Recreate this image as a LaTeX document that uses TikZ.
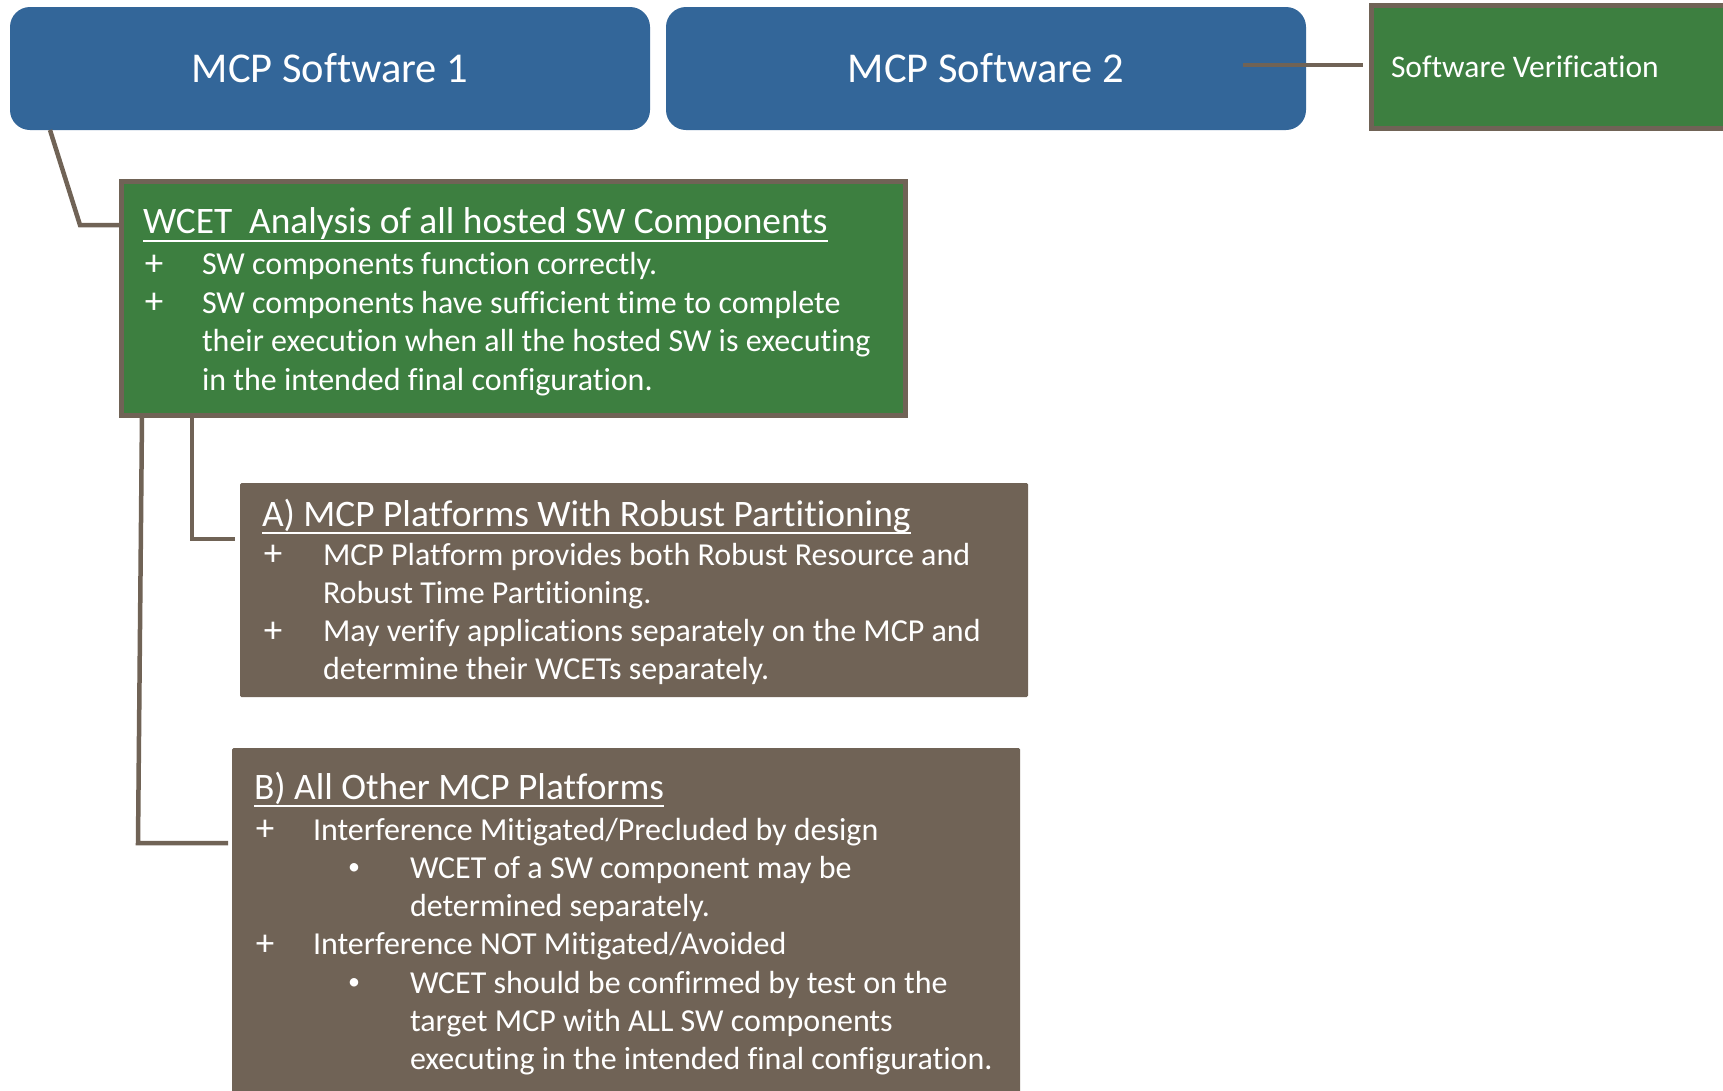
\documentclass[tikz,border=0pt]{standalone}
\usepackage{fontspec}
\setmainfont{Carlito}[Ligatures=NoCommon]
\usetikzlibrary{calc}
\definecolor{mcpblue}{RGB}{51,102,153}
\definecolor{mcpgreen}{RGB}{61,127,64}
\definecolor{mcpbrown}{RGB}{112,99,86}
\begin{document}
\begin{tikzpicture}[x=1pt,y=-1pt,
  conn/.style={draw=mcpbrown, line width=4.5pt},
  bluebox/.style={fill=mcpblue, rounded corners=20pt, minimum width=640pt, minimum height=123pt,
    inner sep=0pt, outer sep=0pt, text=white, font=\fontsize{42.5}{50}\selectfont, anchor=north west},
  greenbox/.style={fill=mcpgreen, draw=mcpbrown, line width=5pt, inner sep=0pt, outer sep=0pt, anchor=north west},
  brownbox/.style={fill=mcpbrown, inner sep=0pt, outer sep=0pt, anchor=north west, rounded corners=1.5pt},
  hdr/.style={text=white, font=\fontsize{37.4}{44}\selectfont, anchor=base west, inner sep=0pt, outer sep=0pt},
  body/.style={text=white, font=\fontsize{32}{38}\selectfont, anchor=base west, inner sep=0pt, outer sep=0pt},
  plussign/.style={text=white, font=\fontsize{37}{44}\selectfont, anchor=base, inner sep=0pt, outer sep=0pt},
  dotsign/.style={text=white, font=\fontsize{24}{30}\selectfont, anchor=base, inner sep=0pt, outer sep=0pt},
  uline/.style={draw=white, line width=2.5pt}]
\path[use as bounding box] (0,0) rectangle (1723,1090);
\clip (0,0) rectangle (1723,1090);
\fill[white] (0,0) rectangle (1723,1090);

% top boxes
\node[bluebox] (b1) at (10,7) {MCP Software 1};
\node[bluebox] (b2) at (666,7) {MCP Software 2};
\node[greenbox, minimum width=400pt, minimum height=123pt] (sv) at (1371.5,5.5) {};
\node[body, font=\fontsize{31.5}{37}\selectfont] (svt) at (1391,77) {Software Verification};

% WCET box
\node[greenbox, minimum width=784pt, minimum height=234pt] (w) at (121.5,181.5) {};
\node[hdr] (wh) at (143,233) {WCET\ \ Analysis of all hosted SW Components};
\draw[uline] ($(wh.base west)+(0,8)$) -- ($(wh.base east)+(0,8)$);
\node[plussign] (w1p) at (154,275) {+};
\node[body] (w1) at (202,274.5) {SW components function correctly.};
\node[plussign] (w2p) at (154,313.5) {+};
\node[body] (w2) at (202,313) {SW components have sufficient time to complete};
\node[body] (w3) at (202,351.5) {their execution when all the hosted SW is executing};
\node[body] (w4) at (202,390) {in the intended final configuration.};

% Box A
\node[brownbox, minimum width=788pt, minimum height=214pt] (a) at (240,483) {};
\node[hdr] (ah) at (262,526) {A) MCP Platforms With Robust Partitioning};
\draw[uline] ($(ah.base west)+(0,7)$) -- ($(ah.base east)+(0,7)$);
\node[plussign] (a1p) at (273,565.5) {+};
\node[body] (a1) at (323,565) {MCP Platform provides both Robust Resource and};
\node[body] (a2) at (323,603.3) {Robust Time Partitioning.};
\node[plussign] (a3p) at (273,642.1) {+};
\node[body] (a3) at (323,641.6) {May verify applications separately on the MCP and};
\node[body] (a4) at (323,679.9) {determine their WCETs separately.};

% Box B
\node[brownbox, minimum width=788pt, minimum height=400pt] (b) at (232,748) {};
\node[hdr] (bh) at (254,799) {B) All Other MCP Platforms};
\draw[uline] ($(bh.base west)+(0,7)$) -- ($(bh.base east)+(0,7)$);
\node[plussign] (b1p) at (265,840.5) {+};
\node[body] (bb1) at (313,840) {Interference Mitigated/Precluded by design};
\node[dotsign] (b2d) at (354,874.3) {•};
\node[body] (bb2) at (410,878.3) {WCET of a SW component may be};
\node[body] (bb3) at (410,916.6) {determined separately.};
\node[plussign] (b4p) at (265,955.4) {+};
\node[body] (bb4) at (313,954.9) {Interference NOT Mitigated/Avoided};
\node[dotsign] (b5d) at (354,989.2) {•};
\node[body] (bb5) at (410,993.2) {WCET should be confirmed by test on the};
\node[body] (bb6) at (410,1031.5) {target MCP with ALL SW components};
\node[body] (bb7) at (410,1069.8) {executing in the intended final configuration.};

% connectors
\coordinate (k1) at (80,225);
\draw[conn] ($(b1.south west)+(40,0)$) -- (k1) -- (k1 -| w.west);
\draw[conn] ($(b2.east)+(-63,-3.5)$) -- ($(sv.west |- b2.east)+(-8.5,-3.5)$);
\draw[conn] ($(w.south west)+(70.5,0)$) |- ($(a.north west)+(-5,56)$);
\draw[conn] ($(w.south west)+(20.5,0)$) -- ($(b.north west)+(-94,95)$) -- ($(b.north west)+(-4,95)$);
\end{tikzpicture}
\end{document}
